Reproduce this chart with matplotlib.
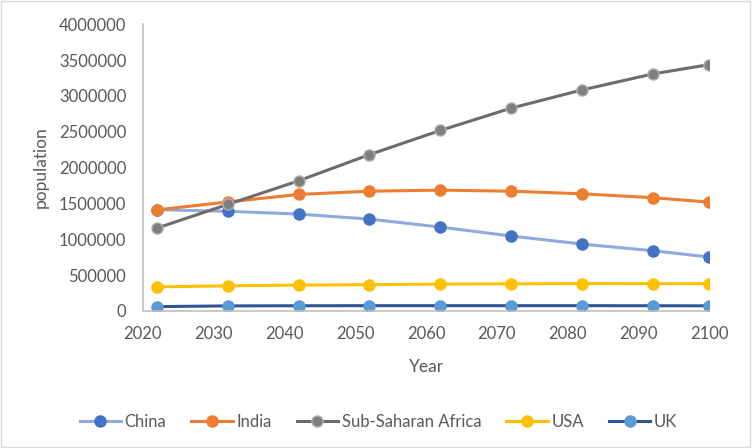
import matplotlib.pyplot as plt
from matplotlib.patches import Rectangle

years = [2022, 2032, 2042, 2052, 2062, 2072, 2082, 2092, 2100]
china = [1412000, 1390000, 1351000, 1281000, 1170000, 1045000, 933000, 840000, 752000]
india = [1410000, 1520000, 1625000, 1670000, 1685000, 1670000, 1634000, 1580000, 1518000]
ssa = [1156000, 1486000, 1815000, 2180000, 2517000, 2828000, 3082000, 3305000, 3436000]
usa = [335000, 350000, 360000, 366000, 374000, 378000, 382000, 380000, 380000]
uk = [60000, 70000, 72000, 73000, 73000, 73000, 73000, 72000, 71000]

plt.rcParams['font.family'] = ['Lato', 'DejaVu Sans']
txt = '#595959'

fig = plt.figure(figsize=(7.52, 4.48), dpi=100)
ax = fig.add_axes([0.190, 0.306, 0.753, 0.640])

# series: (label, values, line colour, marker face, marker edge)
series = [
    ('China', china, '#8FAADC', '#4472C4', '#4472C4'),
    ('India', india, '#ED7D31', '#ED7D31', '#ED7D31'),
    ('Sub-Saharan Africa', ssa, '#706B6B', '#7F7F7F', '#AFAFAF'),
    ('USA', usa, '#FFC000', '#FFC000', '#FFC000'),
    ('UK', uk, '#2F5597', '#5B9BD5', '#5B9BD5'),
]
for name, vals, lc, mf, me in series:
    ax.plot(years, vals, color=lc, lw=2.2, marker='o', ms=8,
            markerfacecolor=mf, markeredgecolor=me, markeredgewidth=1.0,
            label=name)

ax.set_xlim(2020, 2100)
ax.set_ylim(0, 4000000)
ax.set_xticks(range(2020, 2101, 10))
ax.set_yticks(range(0, 4000001, 500000))
ax.set_yticklabels([str(v) for v in range(0, 4000001, 500000)])
ax.tick_params(length=0, labelsize=12, colors=txt, pad=12)
ax.tick_params(axis='x', pad=11)
for s in ['top', 'right']:
    ax.spines[s].set_visible(False)
for s in ['left', 'bottom']:
    ax.spines[s].set_color('#BFBFBF')
    ax.spines[s].set_linewidth(1.2)
ax.set_ylabel('population', fontsize=12.5, color=txt, labelpad=7)
ax.set_xlabel('Year', fontsize=12.5, color=txt, labelpad=12)

leg = fig.legend(loc='center', bbox_to_anchor=(0.503, 0.059), ncol=5, frameon=False,
                 fontsize=12, handlelength=2.5, columnspacing=1.5, handletextpad=0.2)
for t in leg.get_texts():
    t.set_color(txt)

fig.patches.append(Rectangle((0.001, 0.002), 0.997, 0.996, transform=fig.transFigure,
                             fill=False, edgecolor='#D9D9D9', lw=1))

fig.savefig('out.png', dpi=100)
